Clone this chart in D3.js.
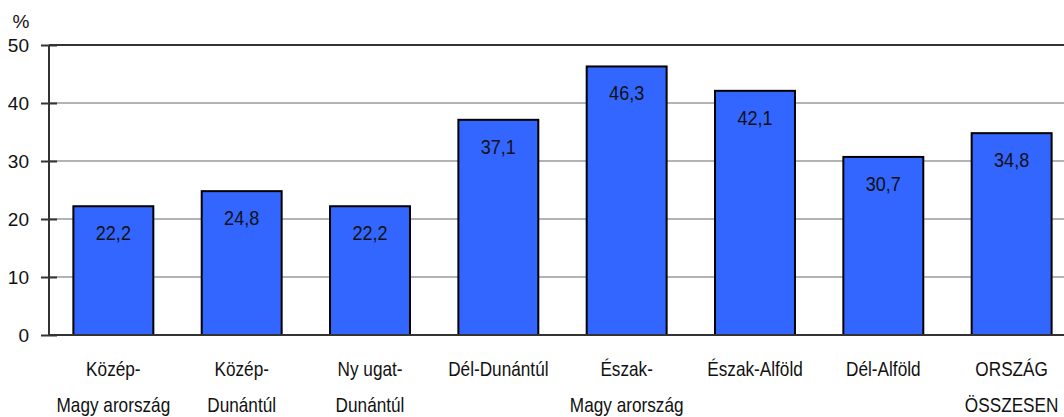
<html>
<head>
    <style>
        body{ margin: 0; background: white; }
        svg{ display: block; }
        text{ font-family: "Liberation Sans", Arial, sans-serif; fill: #111; }
    </style>
</head>
<body>
<script src="https://d3js.org/d3.v7.min.js"></script>
<svg></svg>
<script>
    // data
    var regions = [
        ["Közép-", "Magy arország"],
        ["Közép-", "Dunántúl"],
        ["Ny ugat-", "Dunántúl"],
        ["Dél-Dunántúl"],
        ["Észak-", "Magy arország"],
        ["Észak-Alföld"],
        ["Dél-Alföld"],
        ["ORSZÁG", "ÖSSZESEN"]
    ];
    var values = [22.2, 24.8, 22.2, 37.1, 46.3, 42.1, 30.7, 34.8];
    var yTicks = [0, 10, 20, 30, 40, 50];

    let width = 1064;
    let height = 417;

    var margin = { top: 45, left: 49, bottom: 82 };
    let plotH = height - margin.top - margin.bottom;   // 290
    let plotW = 1027;

    let svg = d3.select("svg")
        .attr("width", width)
        .attr("height", height);

    var g = svg.append("g")
        .attr("transform", "translate(" + margin.left + "," + margin.top + ")");

    var x = d3.scaleBand()
        .domain(d3.range(values.length))
        .range([0, plotW])
        .paddingInner(0.377)
        .paddingOuter(0.19);

    var y = d3.scaleLinear()
        .domain([0, 50])
        .range([plotH, 0]);

    // grid lines
    g.selectAll(".grid")
        .data(yTicks.filter(d => d > 0 && d < 50))
        .enter().append("line")
        .attr("x1", 0).attr("x2", width)
        .attr("y1", d => y(d)).attr("y2", d => y(d))
        .style("stroke", "#9a9a9a")
        .style("stroke-width", 1.5);

    // top border
    g.append("line")
        .attr("x1", 0).attr("x2", width)
        .attr("y1", y(50)).attr("y2", y(50))
        .style("stroke", "#333")
        .style("stroke-width", 2);

    // bars
    g.selectAll(".bar")
        .data(values)
        .enter().append("rect")
        .attr("class", "bar")
        .attr("x", (d, i) => x(i))
        .attr("width", x.bandwidth())
        .attr("y", d => y(d))
        .attr("height", d => plotH - y(d))
        .style("fill", "#3366ff")
        .style("stroke", "black")
        .style("stroke-width", 2);

    // value labels inside the bars (narrow look of the original)
    g.selectAll(".val")
        .data(values)
        .enter().append("text")
        .attr("transform", (d, i) => "translate(" + (x(i) + x.bandwidth() / 2) + "," + (y(d) + 34) + ") scale(0.86,1)")
        .attr("text-anchor", "middle")
        .style("font-size", "21px")
        .text(d => d.toFixed(1).replace(".", ","));

    // y axis
    var yAxis = g.append("g")
        .call(d3.axisLeft(y).tickValues(yTicks).tickSize(8).tickPadding(12))
        .call(a => a.select(".domain").remove());
    yAxis.selectAll(".tick line")
        .attr("x2", 8).attr("x1", -8)
        .style("stroke", "#333").style("stroke-width", 2);
    yAxis.selectAll(".tick text")
        .attr("x", -20)
        .style("font-size", "19px")
        .style("font-family", "'Liberation Sans', Arial, sans-serif")
        .style("fill", "#111");

    g.append("line")
        .attr("x1", 0).attr("x2", 0)
        .attr("y1", y(50)).attr("y2", plotH)
        .style("stroke", "#333").style("stroke-width", 2);

    g.append("line")
        .attr("x1", 0).attr("x2", width)
        .attr("y1", plotH).attr("y2", plotH)
        .style("stroke", "#333").style("stroke-width", 2);

    // unit
    svg.append("text")
        .attr("x", 21).attr("y", 28)
        .attr("text-anchor", "middle")
        .style("font-size", "19px")
        .text("%");

    // category labels
    var cats = g.selectAll(".cat")
        .data(regions)
        .enter().append("text")
        .attr("text-anchor", "middle")
        .attr("transform", (d, i) => "translate(" + (x(i) + x.bandwidth() / 2) + "," + (plotH + 41) + ") scale(0.86,1)")
        .style("font-size", "20px");

    cats.selectAll("tspan")
        .data(d => d)
        .enter().append("tspan")
        .attr("x", 0)
        .attr("y", (d, i) => i * 36)
        .text(d => d);
</script>
</body>
</html>
